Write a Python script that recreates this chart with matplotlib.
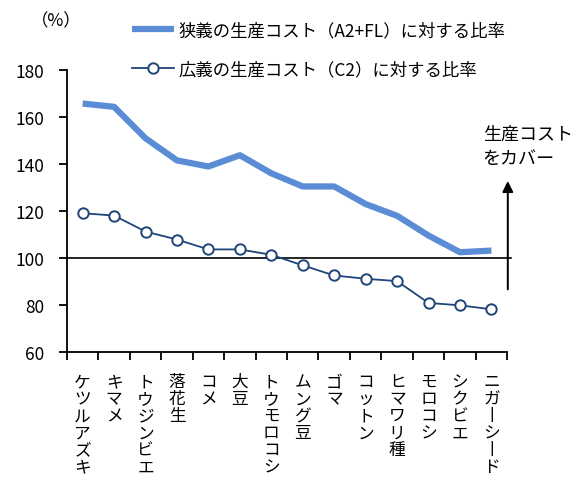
import numpy as np
import matplotlib
matplotlib.use("Agg")
import matplotlib.pyplot as plt

plt.rcParams['font.family'] = ['Noto Sans CJK JP', 'DejaVu Sans']

# crops, ordered by ratio to narrow-sense cost
crops = ['ケツルアズキ', 'キマメ', 'トウジンビエ', '落花生', 'コメ', '大豆', 'トウモロコシ',
         'ムング豆', 'ゴマ', 'コットン', 'ヒマワリ種', 'モロコシ', 'シクビエ', 'ニガーシード']
ratio_a2fl = [165.8, 164.4, 151.0, 141.6, 139.0, 143.8, 136.1,
              130.5, 130.5, 123.0, 118.0, 109.6, 102.5, 103.2]
ratio_c2 = [119.1, 118.1, 111.3, 107.9, 103.7, 103.7, 101.4,
            96.9, 92.6, 91.2, 90.2, 80.9, 79.9, 78.2]
label_a2fl = '狭義の生産コスト（A2+FL）に対する比率'
label_c2 = '広義の生産コスト（C2）に対する比率'


def vertical(s):
    # stack characters top to bottom, long vowel mark turned upright
    return '\n'.join(c if c != 'ー' else '丨' for c in s)


fig = plt.figure(figsize=(5.87, 4.81), dpi=100)
ax = fig.add_axes([0.114, 0.266, 0.750, 0.586])

x = np.arange(len(crops))
ax.plot(x, ratio_a2fl, color='#5B8DD6', lw=4.5, solid_capstyle='butt',
        label=label_a2fl)
ax.plot(x, ratio_c2, color='#1F4478', lw=1.3, marker='o', ms=7.5,
        mfc='white', mec='#1F4478', mew=1.4, label=label_c2)

ax.plot([-0.5, 13.63], [100, 100], color='black', lw=1.2, clip_on=False, zorder=1)

ax.set_xlim(-0.5, 13.5)
ax.set_ylim(60, 180)
ax.set_yticks(range(60, 181, 20))
ax.set_xticks(np.arange(-0.5, 13.6, 1))
ax.set_xticklabels([])
for i, name in enumerate(crops):
    ax.text(i, 51, vertical(name), ha='center', va='top', fontsize=12,
            linespacing=1.0)

for s in ['top', 'right']:
    ax.spines[s].set_visible(False)
for s in ['left', 'bottom']:
    ax.spines[s].set_linewidth(1.3)
ax.tick_params(axis='y', direction='out', length=6, width=1.3, pad=10, labelsize=12.5)
ax.tick_params(axis='x', direction='out', length=6, width=1.3)

ax.annotate('', xy=(13.52, 134), xytext=(13.52, 85.5),
            arrowprops=dict(arrowstyle='-|>', color='black', lw=1.4,
                            mutation_scale=16),
            annotation_clip=False)
ax.text(12.72, 157, '生産コスト\nをカバー', ha='left', va='top', fontsize=13,
        linespacing=1.5)

fig.text(0.052, 0.955, '（%）', ha='left', va='center', fontsize=12.5)

fig.legend(loc='upper left', bbox_to_anchor=(0.207, 0.975), frameon=False,
           fontsize=12.5, handlelength=2.4, handletextpad=0.3, labelspacing=1.2,
           borderaxespad=0.2)

fig.savefig('out.png', dpi=100)
